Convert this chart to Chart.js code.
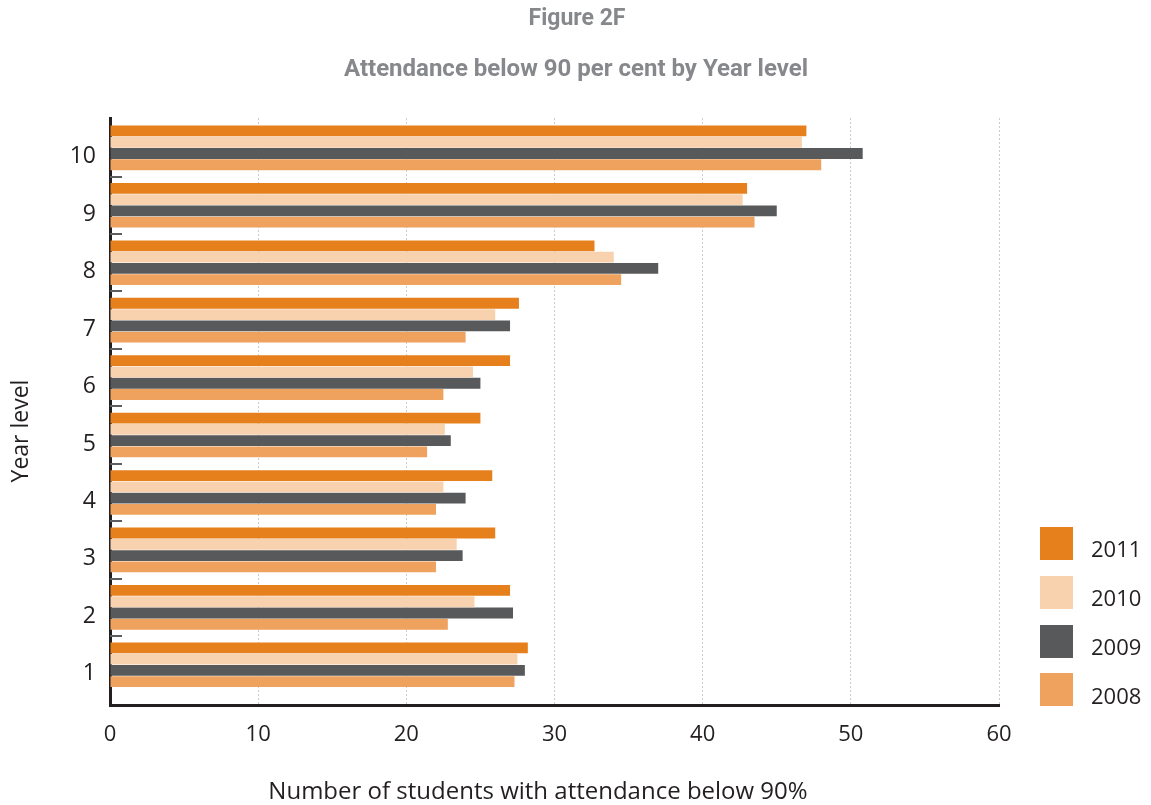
<!DOCTYPE html>
<html>
<head>
<meta charset="utf-8">
<title>Attendance below 90 per cent by Year level</title>
<script src="https://cdn.jsdelivr.net/npm/chart.js@4/dist/chart.umd.min.js"></script>
<style>
  html, body { margin: 0; padding: 0; background: #ffffff; }
  #chart { display: block; }
</style>
</head>
<body>
<canvas id="chart" width="1151" height="805"></canvas>
<script>
// Year levels and the number of students with attendance below 90%
const yearLevels = [1, 2, 3, 4, 5, 6, 7, 8, 9, 10];
const seriesYears = ['2011', '2010', '2009', '2008'];
const values2011 = [28.2, 27.0, 26.0, 25.8, 25.0, 27.0, 27.6, 32.7, 43.0, 47.0];
const values2010 = [27.5, 24.6, 23.4, 22.5, 22.6, 24.5, 26.0, 34.0, 42.7, 46.7];
const values2009 = [28.0, 27.2, 23.8, 24.0, 23.0, 25.0, 27.0, 37.0, 45.0, 50.8];
const values2008 = [27.3, 22.8, 22.0, 22.0, 21.4, 22.5, 24.0, 34.5, 43.5, 48.0];
const xTickValues = [0, 10, 20, 30, 40, 50, 60];

const figureTitle = 'Figure 2F';
const figureSubtitle = 'Attendance below 90 per cent by Year level';
const xAxisTitle = 'Number of students with attendance below 90%';
const yAxisTitle = 'Year level';

const seriesColors = ['#e6801c', '#f8d2af', '#58595b', '#eea25e'];
const seriesValues = [values2011, values2010, values2009, values2008];

const textColor = '#231f20';
const baseFont = '"Open Sans", "Noto Sans", sans-serif';

const datasets = seriesYears.map((year, i) => ({
  label: year,
  data: yearLevels.map((lvl, j) => ({ x: seriesValues[i][j], y: lvl })),
  backgroundColor: seriesColors[i],
  borderWidth: 0,
  categoryPercentage: 0.785,
  barPercentage: 0.96
}));

// Headings, axis titles, inner tick marks between year levels, and the key
const decorations = {
  id: 'decorations',
  afterDraw(chart) {
    const ctx = chart.ctx;
    const yScale = chart.scales.y;
    const area = chart.chartArea;
    ctx.save();

    // headings
    ctx.fillStyle = '#86888b';
    ctx.textAlign = 'center';
    ctx.textBaseline = 'middle';
    ctx.font = 'bold 23px Roboto, "Open Sans", sans-serif';
    ctx.fillText(figureTitle, 577, 19);
    ctx.font = 'bold 24px Roboto, "Open Sans", sans-serif';
    ctx.fillText(figureSubtitle, 576, 70);

    // axis titles
    ctx.fillStyle = textColor;
    ctx.font = '24px ' + baseFont;
    ctx.fillText(xAxisTitle, 538, 792);
    ctx.save();
    ctx.translate(21, 431);
    ctx.rotate(-Math.PI / 2);
    ctx.font = '23px ' + baseFont;
    ctx.fillText(yAxisTitle, 0, 0);
    ctx.restore();

    // short ticks on the inside of the vertical axis, between year levels
    ctx.strokeStyle = '#5d5e60';
    ctx.lineWidth = 2;
    for (let k = 0; k < yearLevels.length - 1; k++) {
      const yp = Math.round(yScale.getPixelForValue((yearLevels[k] + yearLevels[k + 1]) / 2));
      ctx.beginPath();
      ctx.moveTo(area.left, yp);
      ctx.lineTo(area.left + 12, yp);
      ctx.stroke();
    }

    // key
    ctx.textAlign = 'left';
    ctx.font = '22px ' + baseFont;
    chart.data.datasets.forEach((ds, i) => {
      const top = 527 + i * 48.8;
      ctx.fillStyle = ds.backgroundColor;
      ctx.fillRect(1040, Math.round(top), 33, 33);
      ctx.fillStyle = textColor;
      ctx.fillText(ds.label, 1091, top + 24);
    });
    ctx.restore();
  }
};

new Chart(document.getElementById('chart'), {
  type: 'bar',
  data: { datasets },
  options: {
    indexAxis: 'y',
    responsive: false,
    animation: false,
    devicePixelRatio: 1,
    layout: { padding: { top: 118, right: 152, bottom: 0, left: 0 } },
    plugins: {
      legend: { display: false },
      title: { display: false },
      tooltip: { enabled: false }
    },
    scales: {
      x: {
        type: 'linear',
        min: 0,
        max: 60,
        afterBuildTicks: s => { s.ticks = xTickValues.map(v => ({ value: v })); },
        afterFit: s => { s.height = 100; },
        grid: { color: '#cccccc', lineWidth: 1, drawTicks: false },
        border: { display: true, color: textColor, width: 3, dash: [2, 2] },
        ticks: { color: textColor, padding: 17, font: { family: baseFont, size: 22 } }
      },
      y: {
        type: 'linear',
        offset: false,
        min: 0.3,
        max: 10.52,
        afterBuildTicks: s => { s.ticks = yearLevels.map(v => ({ value: v })); },
        afterFit: s => { s.width = 110; },
        grid: { display: false, drawTicks: false, offset: false },
        border: { display: true, color: textColor, width: 3 },
        ticks: {
          color: textColor,
          padding: 14,
          labelOffset: 9,
          font: { family: baseFont, size: 23 },
          callback: v => String(v)
        }
      }
    }
  },
  plugins: [decorations]
});
</script>
</body>
</html>
